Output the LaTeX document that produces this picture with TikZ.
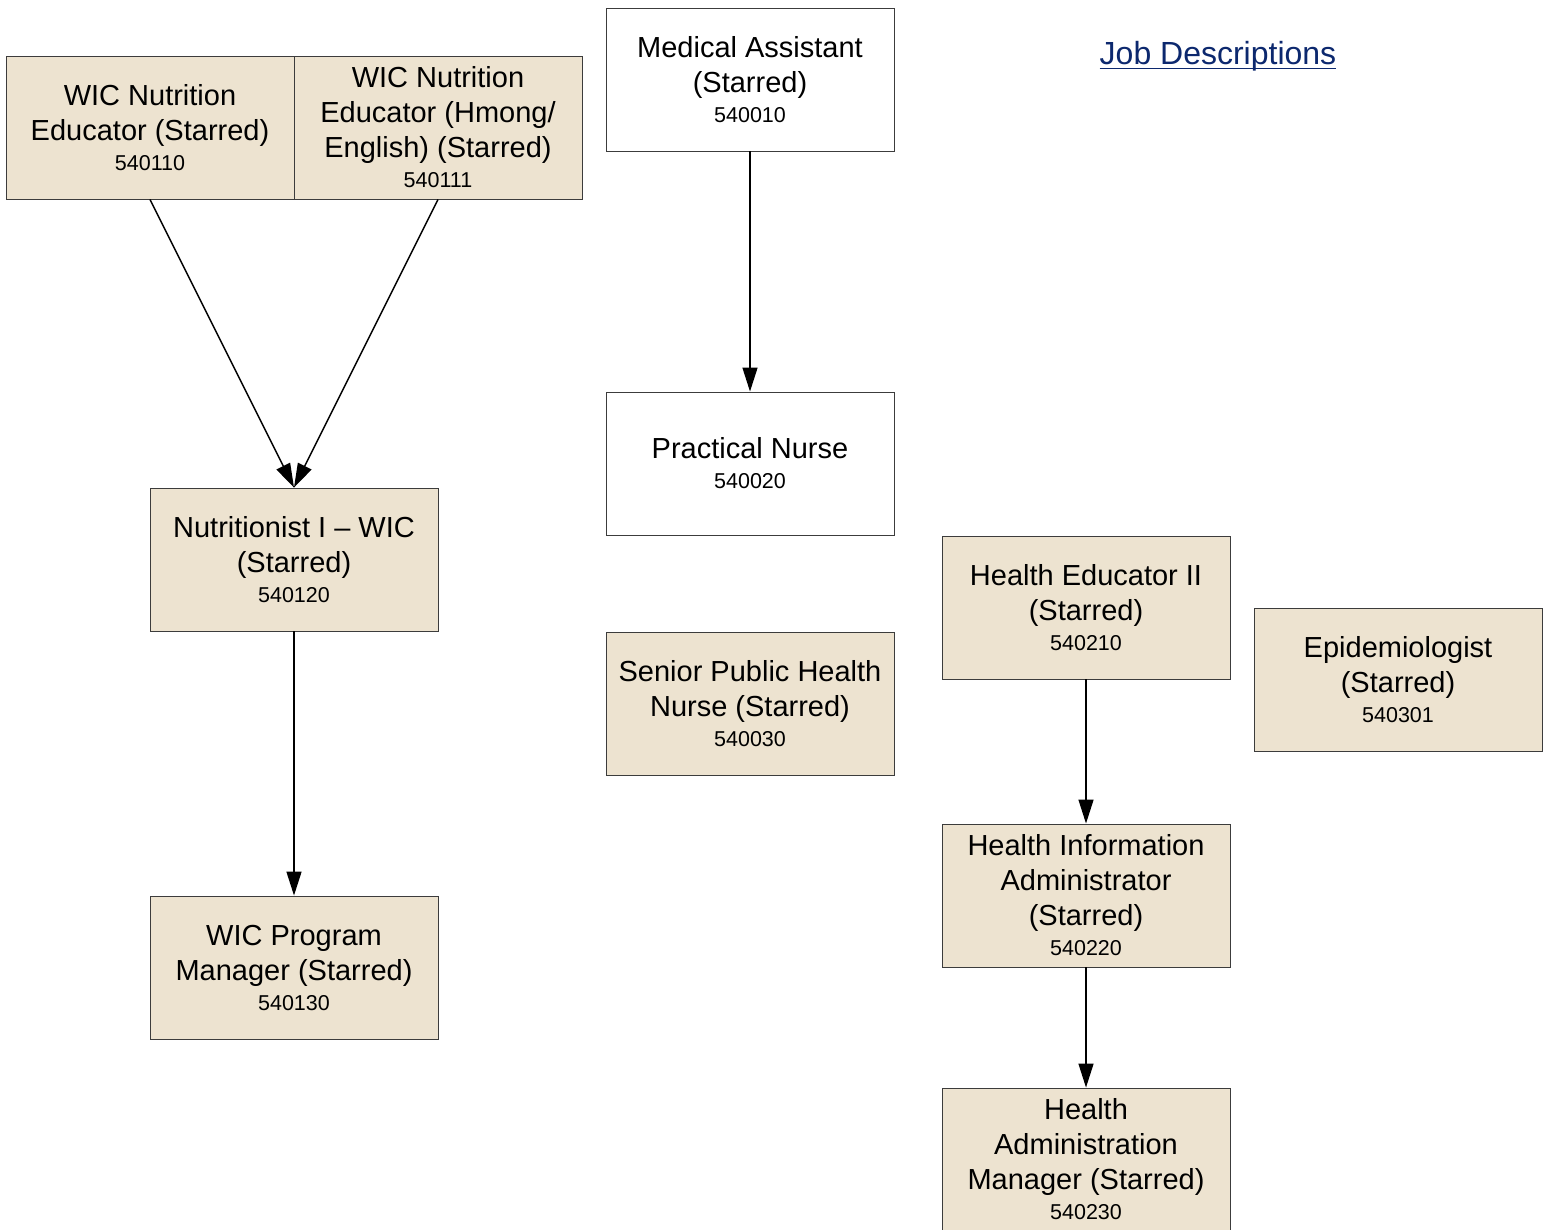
\documentclass[tikz,border=0pt]{standalone}
\usepackage{fontspec}
\setmainfont{Liberation Sans}
\usetikzlibrary{arrows.meta}
\definecolor{boxfill}{RGB}{237,227,208}
\definecolor{boxline}{RGB}{60,60,60}
\definecolor{linkblue}{RGB}{12,40,110}
\newcommand{\jobnum}[1]{\\[-5pt]{\fontsize{21.5}{26}\selectfont #1}}
\begin{document}
\begin{tikzpicture}[x=1pt,y=-1pt,
  jobbox/.style={draw=boxline,line width=0.9pt,fill=boxfill,minimum width=288pt,minimum height=143pt,
    inner sep=0pt,align=center,font=\fontsize{29}{35}\selectfont,text=black},
  whitebox/.style={jobbox,fill=white},
  conn/.style={line width=1.4pt,-{Triangle[length=24pt,width=15pt]}}]
\useasboundingbox (0,0) rectangle (1554,1230);
\clip (0,0) rectangle (1554,1230);
\fill[white] (0,0) rectangle (1554,1230);
\node[jobbox] (wic1) at (150,127.5) {WIC Nutrition\\Educator (Starred)\jobnum{540110}};
\node[jobbox] (wic2) at (438,127.5) {WIC Nutrition\\Educator (Hmong/\\English) (Starred)\jobnum{540111}};
\node[whitebox] (med) at (750,79.5) {Medical Assistant\\(Starred)\jobnum{540010}};
\node[whitebox] (pn) at (750,463.5) {Practical Nurse\jobnum{540020}};
\node[jobbox] (nut) at (294,559.5) {Nutritionist I -- WIC\\(Starred)\jobnum{540120}};
\node[jobbox] (sphn) at (750,703.5) {Senior Public Health\\Nurse (Starred)\jobnum{540030}};
\node[jobbox] (he2) at (1086,607.5) {Health Educator II\\(Starred)\jobnum{540210}};
\node[jobbox] (epi) at (1398,679.5) {Epidemiologist\\(Starred)\jobnum{540301}};
\node[jobbox] (hia) at (1086,895.5) {Health Information\\Administrator\\(Starred)\jobnum{540220}};
\node[jobbox] (wicpm) at (294,967.5) {WIC Program\\Manager (Starred)\jobnum{540130}};
\node[jobbox] (ham) at (1086,1159.5) {Health\\Administration\\Manager (Starred)\jobnum{540230}};
\node[text=linkblue,font=\fontsize{32}{38}\selectfont,inner sep=0pt] (link) at (1218,56) {Job Descriptions};
\draw[linkblue,line width=1.5pt] ([yshift=-4pt]link.base west) -- ([yshift=-4pt]link.base east);
\draw[conn] (wic1.south) -- (nut.north);
\draw[conn] (wic2.south) -- (nut.north);
\draw[conn] (med.south) -- (pn.north);
\draw[conn] (nut.south) -- (wicpm.north);
\draw[conn] (he2.south) -- (hia.north);
\draw[conn] (hia.south) -- (ham.north);
\end{tikzpicture}
\end{document}
